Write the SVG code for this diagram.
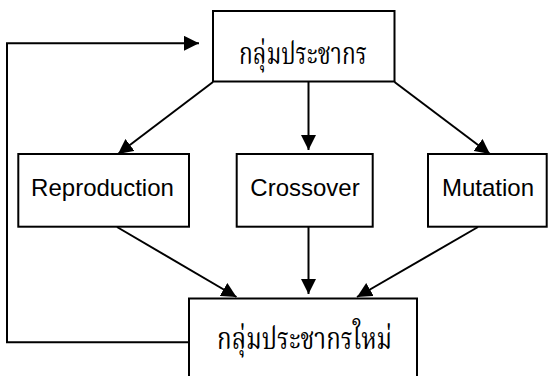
<svg xmlns="http://www.w3.org/2000/svg" width="548" height="376" viewBox="0 0 548 376">
<style>
.box{fill:#fff;stroke:#000;stroke-width:2}
.en{font-family:"Liberation Sans",Arial,sans-serif;font-size:24px;fill:#000;text-anchor:middle}
.th{font-family:"Noto Serif Thai","Noto Sans Thai","Norasi","Loma","Garuda","DejaVu Serif",serif;font-size:31px;fill:#000}
.ln{fill:none;stroke:#000;stroke-width:2}
</style>
<defs>
<marker id="ah" markerUnits="userSpaceOnUse" markerWidth="15" markerHeight="15" refX="15" refY="7.5" orient="auto">
<path d="M0,0 L15,7.5 L0,15 z" fill="#000"/>
</marker>
</defs>
<rect width="548" height="376" fill="#fff"/>
<g id="connectors">
<polyline class="ln" points="189,342.3 7,342.3 7,43.3 199,43.3" marker-end="url(#ah)"/>
<line class="ln" x1="213" y1="82" x2="118" y2="154" marker-end="url(#ah)"/>
<line class="ln" x1="308.5" y1="82" x2="308.5" y2="150" marker-end="url(#ah)"/>
<line class="ln" x1="394.5" y1="82" x2="490" y2="154" marker-end="url(#ah)"/>
<line class="ln" x1="117" y1="227" x2="236.5" y2="297" marker-end="url(#ah)"/>
<line class="ln" x1="308.5" y1="227" x2="308.5" y2="294" marker-end="url(#ah)"/>
<line class="ln" x1="478" y1="227" x2="357" y2="297" marker-end="url(#ah)"/>
</g>
<g id="population">
<rect class="box" x="213" y="11" width="181.5" height="70.5"/>
<text class="th" x="239" y="63.5" textLength="128" lengthAdjust="spacingAndGlyphs">กลุ่มประชากร</text>
</g>
<g id="reproduction">
<rect class="box" x="18.3" y="154" width="170.7" height="72.7"/>
<text class="en" x="102.5" y="196">Reproduction</text>
</g>
<g id="crossover">
<rect class="box" x="236.7" y="154" width="136" height="72.7"/>
<text class="en" x="305" y="196">Crossover</text>
</g>
<g id="mutation">
<rect class="box" x="428" y="154" width="118.7" height="72.7"/>
<text class="en" x="488" y="196">Mutation</text>
</g>
<g id="new-population">
<rect class="box" x="189" y="298.5" width="228" height="90"/>
<text class="th" x="217" y="349" textLength="175" lengthAdjust="spacingAndGlyphs">กลุ่มประชากรใหม่</text>
</g>
</svg>
